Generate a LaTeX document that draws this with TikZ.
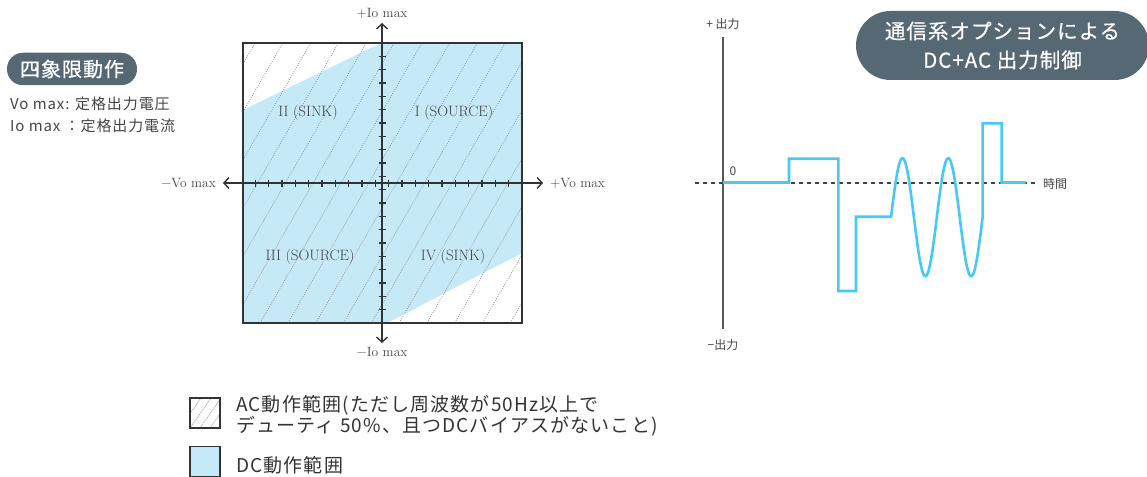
\documentclass[tikz,border=0pt]{standalone}
\usepackage{fontspec}
\newfontfamily\jpfont{Noto Sans CJK JP}
\newfontfamily\jpwide[LetterSpace=6]{Noto Sans CJK JP}
\newfontfamily\jppill[LetterSpace=5,FakeBold=0.5]{Noto Sans CJK JP}
\usetikzlibrary{arrows.meta}
\definecolor{pillc}{HTML}{566873}
\definecolor{dcblue}{HTML}{C6E9F8}
\definecolor{wavec}{HTML}{46C9F4}
\definecolor{axc}{HTML}{333333}
\definecolor{txtc}{HTML}{444444}
\definecolor{hatchc}{HTML}{8E8E8E}
\tikzset{
  pillA/.style={fill=pillc, text=white, inner sep=0, align=center,
    font=\jppill\fontsize{20}{23}\selectfont},
  pillB/.style={fill=pillc, text=white, inner sep=0, align=center,
    font=\jppill\fontsize{20.5}{29}\selectfont},
  axisline/.style={draw=axc, line width=1.4, {Straight Barb[length=5,width=11]}-{Straight Barb[length=5,width=11]}},
  tickline/.style={draw=axc, line width=1.2},
  qlabel/.style={text=txtc, inner sep=0, font=\fontsize{15}{17}\selectfont},
  axlabel/.style={text=txtc, inner sep=0, font=\fontsize{13.5}{15}\selectfont},
  hatchline/.style={draw=hatchc, line width=0.6, dash pattern=on 1pt off 1.3pt},
  jptext/.style={text=txtc, inner sep=0, anchor=west, align=left,
    font=\jpwide\fontsize{15}{22}\selectfont},
  smalljp/.style={text=txtc, inner sep=0, font=\jpfont\fontsize{12}{14}\selectfont},
  legtext/.style={text=axc, inner sep=0, anchor=west, align=left,
    font=\jpwide\fontsize{19}{17.5}\selectfont},
  waveline/.style={draw=wavec, line width=2.6, line join=miter},
  legbox/.style={draw=axc, line width=1.1, minimum width=30, minimum height=30, inner sep=0},
}
\begin{document}
\begin{tikzpicture}[x=1pt,y=-1pt]
\useasboundingbox (0,0) rectangle (1147,476);

% ---------- left heading ----------
\node[pillA, minimum width=130, minimum height=32.5, rounded corners=16] (quad) at (72,69) {四象限動作};
\node[jptext] (vo) at (10,104) {Vo max: 定格出力電圧};
\node[jptext] (io) at (10,126) {Io max ：定格出力電流};

% ---------- quadrant chart ----------
\fill[dcblue] (243,110) -- (381,43) -- (522,43) -- (522,253) -- (387,323) -- (243,323) -- cycle;
\begin{scope}
  \clip (243,43) rectangle (522,323);
  \foreach \k in {0,...,15}
    \draw[hatchline] ({93.3+27.8*\k},323) -- ({255+27.8*\k},43);
\end{scope}
\node[draw=axc, line width=1.4, minimum width=279, minimum height=280, inner sep=0] (box) at (382.5,183) {};

\coordinate (xl) at (223,183);
\coordinate (xr) at (543,183);
\coordinate (yt) at (382,23);
\coordinate (yb) at (382,343);
\draw[axisline] (xl) -- (xr);
\draw[axisline] (yb) -- (yt);
\foreach \k in {0,...,9}{
  \draw[tickline] ({382+6.67+13.33*\k},179.5) -- ++(0,7);
  \draw[tickline] ({382-6.67-13.33*\k},179.5) -- ++(0,7);
  \draw[tickline] (378.5,{183+6.67+13.33*\k}) -- ++(7,0);
  \draw[tickline] (378.5,{183-6.67-13.33*\k}) -- ++(7,0);
}
\node[axlabel] (ltop) at (382,13) {+Io max};
\node[axlabel] (lbot) at (382,352) {−Io max};
\node[axlabel, anchor=east] (lleft) at (216,183) {−Vo max};
\node[axlabel, anchor=west] (lright) at (550,183) {+Vo max};

\node[qlabel] (q2) at (308,113) {II (SINK)};
\node[qlabel] (q1) at (454,113) {I (SOURCE)};
\node[qlabel] (q3) at (310,257) {III (SOURCE)};
\node[qlabel] (q4) at (453,257) {IV (SINK)};

% ---------- right chart ----------
\node[pillB, minimum width=293, minimum height=69, rounded corners=34.5] (title) at (1002.5,45.5) {通信系オプションによる\\DC+AC 出力制御};

\coordinate (vt) at (723,37);
\coordinate (vb) at (723,329);
\draw[draw=txtc!90, line width=1.4] (vb) -- (vt);
\coordinate (dl) at (695,183);
\coordinate (dr) at (1038,183);
\draw[draw=txtc, line width=1.1, dash pattern=on 4pt off 4pt] (dl) -- (dr);
\node[smalljp] (pout) at (723,24) {+ 出力};
\node[smalljp] (mout) at (723,345) {−出力};
\node[smalljp, anchor=west] (time) at (1043,184) {時間};
\node[smalljp] (zero) at (733,171) {0};

\draw[waveline] (723,182.5) -- (789,182.5) -- (789,158.7) -- (838.3,158.7)
  -- (838.3,291) -- (856,291) -- (856,216.7) -- (891,216.7)
  -- plot[domain=0:2, samples=160, smooth] ({891+45.8*\x},{217.2-59*sin(360*\x)})
  -- (982.6,123.3) -- (1001.7,123.3) -- (1001.7,182.5) -- (1025.7,182.5);

% ---------- legend ----------
\begin{scope}
  \clip (190,398) rectangle (220,428);
  \foreach \k in {0,...,4}
    \draw[draw=black!35, line width=0.7, dash pattern=on 1.2pt off 0.8pt] ({170+10*\k},428) -- ({191+10*\k},398);
\end{scope}
\node[legbox] (lgac) at (205,413) {};
\node[legbox, fill=dcblue] (lgdc) at (205,461.5) {};
\node[legtext] (tac) at (236,415.5) {AC動作範囲(ただし周波数が50Hz以上で\\デューティ 50\%、且つDCバイアスがないこと)};
\node[legtext] (tdc) at (236,465) {DC動作範囲};
\end{tikzpicture}
\end{document}
